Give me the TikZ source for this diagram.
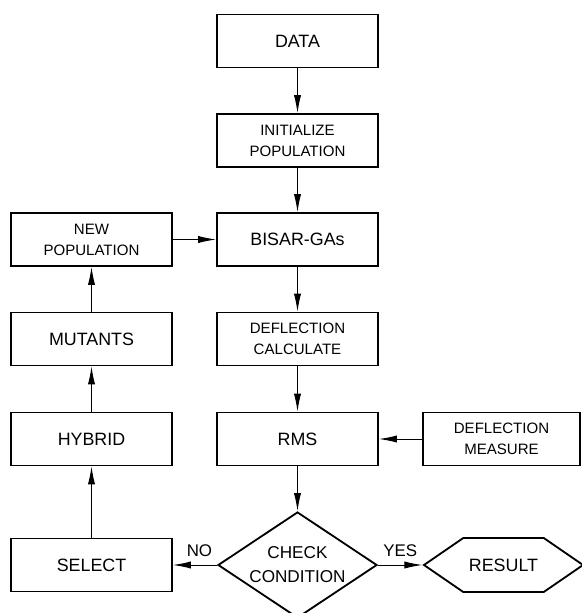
\documentclass[tikz,border=0pt]{standalone}
\usepackage{fontspec}
\setmainfont{Liberation Sans}
\usetikzlibrary{shapes.geometric, shapes.symbols, arrows.meta, positioning}

\begin{document}
\begin{tikzpicture}[x=0.025cm, y=-0.025cm,
    box/.style={draw, line width=1.3pt, minimum width=4.025cm, minimum height=1.325cm,
        inner sep=0pt, align=center, font=\fontsize{12.7}{15}\selectfont},
    smallbox/.style={box, font=\fontsize{10.7}{14.8}\selectfont},
    flow/.style={-{Latex[length=4.5mm, width=1.8mm]}, line width=0.7pt},
    lbl/.style={inner sep=0pt, font=\fontsize{12}{14}\selectfont}]
    \useasboundingbox (0,0) rectangle (582,613);

    % centre column
    \node[box] (Data) at (297.5,41) {DATA};
    \node[smallbox] (Init) at (297.5,140.5) {INITIALIZE\\POPULATION};
    \node[box] (Bisar) at (297.5,239.5) {BISAR-GAs};
    \node[smallbox] (DeflCalc) at (297.5,339) {DEFLECTION\\CALCULATE};
    \node[box] (Rms) at (297.5,439) {RMS};
    \node[diamond, draw, line width=1.3pt, aspect=1.5, minimum width=3.975cm, minimum height=2.65cm,
        inner sep=0pt, align=center, font=\fontsize{12.2}{17}\selectfont] (Check) at (297.5,565) {CHECK\\CONDITION};

    % right column
    \node[smallbox, minimum width=3.925cm] (DeflMeas) at (501.5,439) {DEFLECTION\\MEASURE};
    \node[signal, signal to=west and east, signal pointer angle=69, draw, line width=1.3pt,
        minimum width=3.975cm, minimum height=1.35cm, inner sep=0pt,
        font=\fontsize{12.7}{15}\selectfont] (Result) at (503.5,565) {RESULT};

    % left column
    \node[smallbox] (NewPop) at (91.5,239.5) {NEW\\POPULATION};
    \node[box] (Mutants) at (91.5,339) {MUTANTS};
    \node[box] (Hybrid) at (91.5,439) {HYBRID};
    \node[box] (Select) at (91.5,565) {SELECT};

    \draw[flow] (Data) to (Init);
    \draw[flow] (Init) to (Bisar);
    \draw[flow] (Bisar) to (DeflCalc);
    \draw[flow] (DeflCalc) to (Rms);
    \draw[flow] (Rms) to (Check);
    \draw[flow] (DeflMeas) to (Rms);
    \draw[flow] (Check.west) -- node[lbl, pos=0.4, above=0.2cm] {NO} (Select.east);
    \draw[flow] (Check.east) -- node[lbl, pos=0.5, above=0.2cm] {YES} (Result.west);
    \draw[flow] (Select) to (Hybrid);
    \draw[flow] (Hybrid) to (Mutants);
    \draw[flow] (Mutants) to (NewPop);
    \draw[flow] (NewPop) to (Bisar);
\end{tikzpicture}
\end{document}
